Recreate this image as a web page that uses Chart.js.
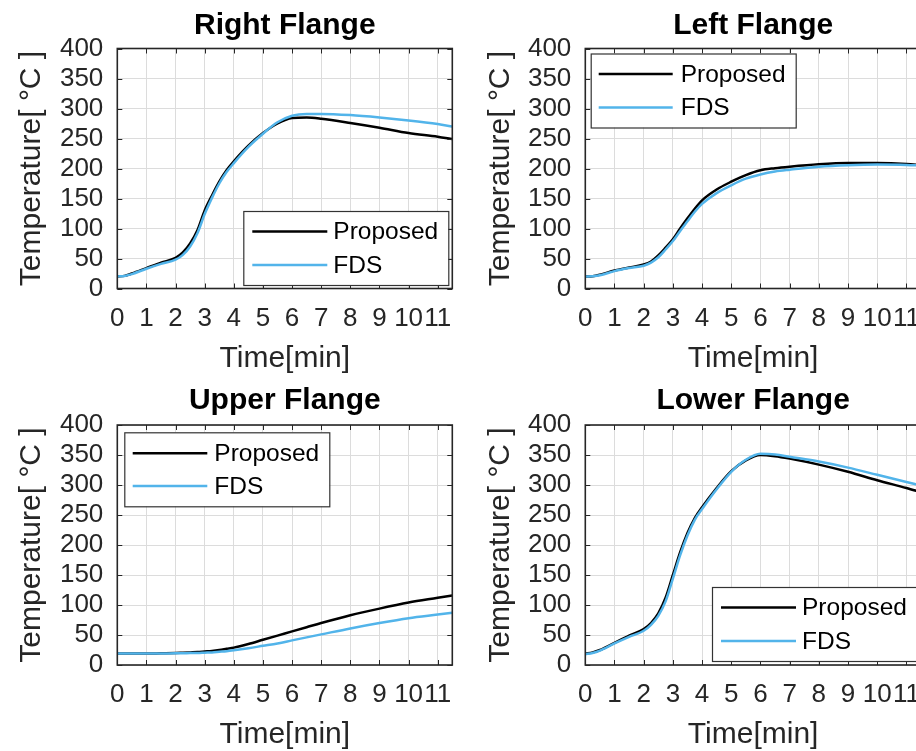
<!DOCTYPE html>
<html><head><meta charset="utf-8">
<script src="https://cdn.jsdelivr.net/npm/chart.js@4.4.0/dist/chart.umd.min.js"></script>
<style>
html,body{margin:0;padding:0;overflow:hidden;background:#fff;width:916px;height:751px;position:relative;}
canvas{position:absolute;}
</style></head><body>
<canvas id="c0" width="458" height="375" style="left:0;top:0"></canvas>
<canvas id="c1" width="469" height="375" style="left:458px;top:0"></canvas>
<canvas id="c2" width="458" height="376" style="left:0;top:375px"></canvas>
<canvas id="c3" width="469" height="376" style="left:458px;top:375px"></canvas>
<script>
// ---- data (time in minutes, temperature in degC) ----
const timeMin = [0, 0.25, 0.5, 1, 1.5, 2, 2.25, 2.5, 2.75, 3, 3.25, 3.5, 3.75, 4, 4.5, 5, 5.5, 6, 6.5, 7, 8, 9, 10, 11, 11.5];
const seriesNames = ['Proposed', 'FDS'];
const panelTitles = ['Right Flange', 'Left Flange', 'Upper Flange', 'Lower Flange'];
const xTickStep = 1;
const yTickStep = 50;

const rightProposed = [20, 21, 25, 34, 43, 51, 60, 75, 97, 130, 155, 178, 197, 212, 238, 259, 275, 284, 285, 283, 276, 268, 259, 253, 249];
const rightFDS      = [20, 21, 24, 33, 41, 48, 56, 70, 92, 124, 151, 175, 194, 209, 236, 258, 277, 288, 291, 291, 289, 285, 280, 274, 270];

const leftProposed  = [20, 20.5, 23, 30, 35, 40, 45, 55, 68, 82, 100, 117, 133, 147, 165, 178, 189, 197, 200.5, 203, 207, 209, 209, 207.5, 205.5];
const leftFDS       = [20, 20.5, 22, 29, 34, 38, 43, 52, 65, 79, 96, 112, 128, 141, 159, 172, 183, 190, 195, 198, 203, 205.5, 206.5, 206, 205];

const upperProposed = [19, 19, 19, 19, 19.5, 20, 20.5, 21, 21.5, 22.5, 23.5, 25, 27, 29, 35, 42, 49, 56, 63, 70, 83, 94, 104, 112, 116];
const upperFDS      = [19, 19, 19, 19, 19, 19.5, 19.5, 20, 20, 20.5, 21, 22, 23, 24.5, 28, 32, 36, 41, 46, 51, 61, 70, 78, 84, 87];

const lowerProposed = [19, 21, 25, 37, 49, 60, 70, 86, 112, 150, 188, 220, 245, 263, 295, 323, 341, 350, 348, 344, 334, 322, 308, 295, 288];
const lowerFDS      = [18, 20, 24, 36, 47, 57, 67, 82, 106, 144, 183, 216, 242, 260, 293, 322, 342, 352, 351, 347, 339, 329, 317, 305, 299];

// ---- styling ----
const FONT = "'Liberation Sans', Arial, Helvetica, sans-serif";
Chart.defaults.font.family = FONT;
const AXIS_COLOR = '#262626';
const COLORS = ['#000000', '#52B4EA'];

const framePlugin = {
  id: 'frame',
  afterDatasetsDraw(chart, args, opts) {
    const {ctx, chartArea: a, scales: {x, y}} = chart;
    ctx.save();
    ctx.strokeStyle = opts.color;
    ctx.lineWidth = 1;
    ctx.beginPath();
    x.ticks.forEach(t => {
      const px = Math.round(x.getPixelForValue(t.value)) + 0.5;
      ctx.moveTo(px, a.bottom); ctx.lineTo(px, a.bottom - opts.len);
      ctx.moveTo(px, a.top); ctx.lineTo(px, a.top + opts.len);
    });
    y.ticks.forEach(t => {
      const py = Math.round(y.getPixelForValue(t.value)) + 0.5;
      ctx.moveTo(a.left, py); ctx.lineTo(a.left + opts.len, py);
      ctx.moveTo(a.right, py); ctx.lineTo(a.right - opts.len, py);
    });
    ctx.stroke();
    ctx.lineWidth = opts.width;
    ctx.strokeRect(a.left, a.top, a.right - a.left, a.bottom - a.top);
    ctx.restore();
  }
};

const boxLegendPlugin = {
  id: 'boxLegend',
  afterDraw(chart, args, o) {
    const ctx = chart.ctx, a = chart.chartArea;
    const x = o.corner.includes('left') ? a.left + o.insetX : a.right - o.insetX - o.width;
    const y = o.corner.includes('top') ? a.top + o.insetY : a.bottom - o.insetY - o.height;
    ctx.save();
    ctx.fillStyle = '#ffffff';
    ctx.fillRect(x, y, o.width, o.height);
    ctx.strokeStyle = o.borderColor;
    ctx.lineWidth = o.borderWidth;
    ctx.strokeRect(x + 0.5, y + 0.5, o.width, o.height);
    chart.data.datasets.forEach((ds, i) => {
      const ly = y + o.rows[i];
      ctx.strokeStyle = ds.borderColor;
      ctx.lineWidth = ds.borderWidth;
      ctx.beginPath();
      ctx.moveTo(x + o.lineStart, ly);
      ctx.lineTo(x + o.lineEnd, ly);
      ctx.stroke();
      ctx.fillStyle = '#000000';
      ctx.font = o.fontSize + 'px ' + FONT;
      ctx.textBaseline = 'middle';
      ctx.textAlign = 'left';
      ctx.fillText(ds.label, x + o.textX, ly + 1);
    });
    ctx.restore();
  }
};

function makePanel(id, title, proposed, fds, L) {
  const mk = (vals) => timeMin.map((t, i) => ({x: t, y: vals[i]}));
  return new Chart(document.getElementById(id), {
    type: 'line',
    data: {
      datasets: [
        {label: seriesNames[0], data: mk(proposed), borderColor: COLORS[0], borderWidth: 2.5, order: 1},
        {label: seriesNames[1], data: mk(fds), borderColor: COLORS[1], borderWidth: 2.5, order: 0}
      ]
    },
    plugins: [framePlugin, boxLegendPlugin],
    options: {
      responsive: false,
      animation: false,
      devicePixelRatio: 1,
      layout: {padding: {left: 0, right: L.padRight, top: 0, bottom: 0}},
      elements: {
        point: {radius: 0, hoverRadius: 0},
        line: {cubicInterpolationMode: 'monotone', fill: false}
      },
      plugins: {
        legend: {display: false},
        tooltip: {enabled: false},
        title: {
          display: true, text: title, fullSize: false, color: '#000000',
          font: {size: 30, weight: 'bold', family: FONT, lineHeight: 1.2},
          padding: {top: L.titleTop, bottom: L.titleBottom}
        },
        frame: {color: AXIS_COLOR, len: 5, width: 1.6},
        boxLegend: Object.assign({
          width: 205, height: 74, rows: [20.5, 54], lineStart: 9, lineEnd: 84, textX: 90,
          fontSize: 24.5, borderColor: '#333333', borderWidth: 1.2
        }, L.legend)
      },
      scales: {
        x: {
          type: 'linear', min: 0, max: 11.5,
          afterFit(s) { s.height = L.xHeight; s.paddingLeft = 0; s.paddingRight = 0; },
          ticks: {stepSize: xTickStep, autoSkip: false, maxRotation: 0, minRotation: 0, includeBounds: false,
                  padding: 14.5, color: AXIS_COLOR, font: {size: 26, family: FONT}},
          grid: {color: '#dcdcdc', lineWidth: 1, drawTicks: false},
          border: {display: false},
          title: {display: true, text: 'Time[min]', color: AXIS_COLOR,
                  font: {size: 30, family: FONT, lineHeight: 1}, padding: {top: 0, bottom: 1.5}}
        },
        y: {
          type: 'linear', min: 0, max: 400,
          afterFit(s) { s.width = L.yWidth; },
          ticks: {stepSize: yTickStep, autoSkip: false, padding: 14, color: AXIS_COLOR, font: {size: 26, family: FONT}},
          grid: {color: '#dcdcdc', lineWidth: 1, drawTicks: false},
          border: {display: false},
          title: {display: true, text: 'Temperature[ °C ]', color: AXIS_COLOR,
                  font: {size: 30, family: FONT, lineHeight: 1}, padding: {top: L.yTitlePad, bottom: 0}}
        }
      }
    }
  });
}

makePanel('c0', panelTitles[0], rightProposed, rightFDS,
  {padRight: 5.7, titleTop: 7.5, titleBottom: 5, xHeight: 86.5, yWidth: 117.3, yTitlePad: 17,
   legend: {corner: 'bottom-right', insetX: 4, insetY: 3.5}});
makePanel('c1', panelTitles[1], leftProposed, leftFDS,
  {padRight: 6, titleTop: 7.5, titleBottom: 5, xHeight: 86.5, yWidth: 127.3, yTitlePad: 27.5,
   legend: {corner: 'top-left', insetX: 5.4, insetY: 5, lineStart: 8, lineEnd: 82}});
makePanel('c2', panelTitles[2], upperProposed, upperFDS,
  {padRight: 5.7, titleTop: 8, titleBottom: 6, xHeight: 86, yWidth: 117.3, yTitlePad: 17,
   legend: {corner: 'top-left', insetX: 7, insetY: 7.3, rows: [21, 53.7], lineStart: 8.4, lineEnd: 83}});
makePanel('c3', panelTitles[3], lowerProposed, lowerFDS,
  {padRight: 6, titleTop: 8, titleBottom: 6, xHeight: 86, yWidth: 127.3, yTitlePad: 27.5,
   legend: {corner: 'bottom-right', insetX: 4, insetY: 4}});
</script>
</body></html>
